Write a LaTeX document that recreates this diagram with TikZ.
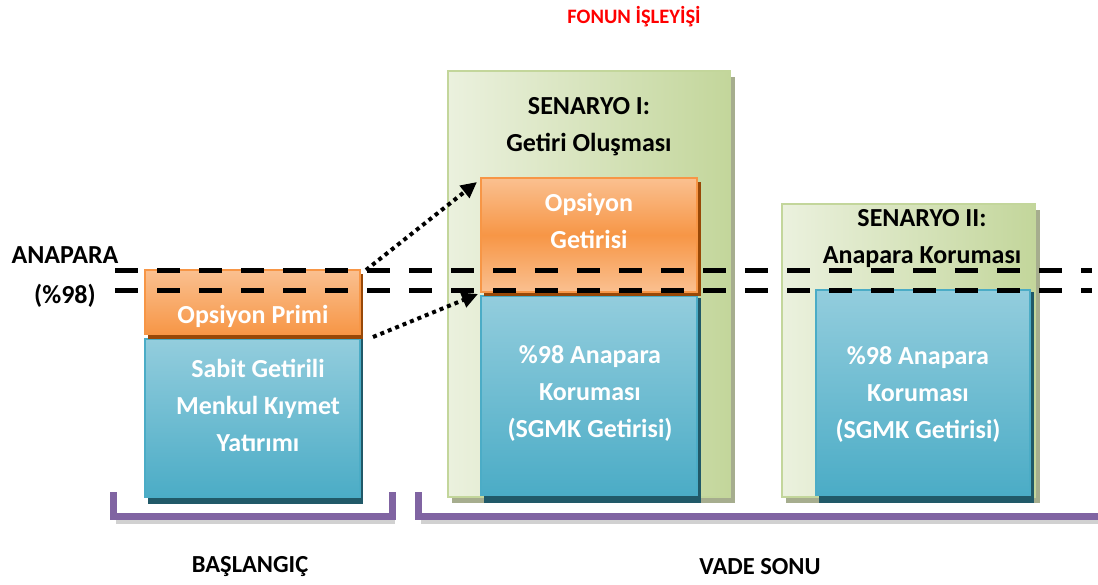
\documentclass[tikz,border=0pt]{standalone}
\usepackage{fontspec}
\setmainfont{Carlito}
\usetikzlibrary{arrows.meta}
\definecolor{orL}{HTML}{FAC090}
\definecolor{orD}{HTML}{F79646}
\definecolor{orB}{HTML}{984807}
\definecolor{blL}{HTML}{93CDDD}
\definecolor{blD}{HTML}{4BACC6}
\definecolor{blS}{HTML}{215968}
\definecolor{grL}{HTML}{EBF1DE}
\definecolor{grD}{HTML}{C3D69B}
\definecolor{grS}{HTML}{A6AD8E}
\definecolor{pur}{HTML}{8064A2}
\tikzset{
  txt/.style={font=\bfseries\fontsize{26}{37}\selectfont, align=center},
  wtxt/.style={txt, text=white},
  btxt/.style={txt, text=black},
  lbl/.style={font=\bfseries\fontsize{24.5}{30}\selectfont, text=black},
  dashline/.style={line width=5pt, dash pattern=on 23pt off 19pt},
  dotarrow/.style={line width=4pt, dash pattern=on 4pt off 4pt, -{Triangle[length=16pt,width=15pt]}},
  bracket/.style={line width=7pt, draw=pur},
  bshadow/.style={line width=7pt, draw=black!18},
}
\begin{document}
\begin{tikzpicture}[x=1pt,y=-1pt]
\useasboundingbox (0,0) rectangle (1098,585);
% title
\node[font=\bfseries\fontsize{20.5}{24}\selectfont, text=red] (title) at (634,17) {FONUN İŞLEYİŞİ};
% green boxes
\fill[grS] (452,77) rectangle (735,503);
\shade[left color=grL, right color=grD] (448,71) rectangle (730,497);
\draw[grD, line width=1.5pt] (448,71) rectangle (730,497);
\fill[grS] (786,210) rectangle (1040,503);
\shade[left color=grL, right color=grD] (782,204) rectangle (1035,497);
\draw[grD, line width=1.5pt] (782,204) rectangle (1035,497);
% left boxes
\fill[blS] (148,339) rectangle (363,504);
\shade[top color=blL, bottom color=blD] (145,339) rectangle (360,497);
\draw[blD, line width=1.5pt] (145,339) rectangle (360,497);
\fill[orB] (148,274) rectangle (363,339);
\shade[top color=orL, bottom color=orD] (145,270) rectangle (360,334);
\draw[orD, line width=1.5pt] (145,270) rectangle (360,334);
% senaryo I boxes
\fill[blS] (484,298) rectangle (701,503);
\shade[top color=blL, bottom color=blD] (481,296) rectangle (697,495);
\draw[blD, line width=1.5pt] (481,296) rectangle (697,495);
\fill[orB] (484,182) rectangle (701,296);
\shade[top color=orL, bottom color=orL, middle color=orD] (481,178) rectangle (697,292);
\draw[orD, line width=1.5pt] (481,178) rectangle (697,292);
% senaryo II box
\fill[blS] (819,292) rectangle (1034,503);
\shade[top color=blL, bottom color=blD] (816,290) rectangle (1030,495);
\draw[blD, line width=1.5pt] (816,290) rectangle (1030,495);
% texts
\node[wtxt] (prim) at (253,316) {Opsiyon Primi};
\node[wtxt] (sgmk) at (258,405) {Sabit Getirili\\Menkul Kıymet\\Yatırımı};
\node[btxt] (s1) at (589,127) {SENARYO I:\\Getiri Oluşması};
\node[wtxt] (og) at (589,221) {Opsiyon\\Getirisi};
\node[wtxt] (k1) at (590,393) {\%98 Anapara\\Koruması\\(SGMK Getirisi)};
\node[btxt] (s2) at (922,239) {SENARYO II:\\Anapara Koruması};
\node[wtxt] (k2) at (918,394) {\%98 Anapara\\Koruması\\(SGMK Getirisi)};
\node[btxt] (anapara) at (65,255) {ANAPARA};
\node[btxt] (yuzde) at (65,296) {(\%98)};
\node[lbl] (bas) at (250,567) {BAŞLANGIÇ};
\node[lbl] (vade) at (760,567) {VADE SONU};
% dashed lines
\coordinate (d1a) at (115,271); \coordinate (d1b) at (1092,271);
\coordinate (d2a) at (115,291); \coordinate (d2b) at (1092,291);
\draw[dashline] (d1a) -- (d1b);
\draw[dashline] (d2a) -- (d2b);
% arrows
\coordinate (a1s) at (366,270); \coordinate (a1e) at (477,182);
\coordinate (a2s) at (373,337); \coordinate (a2e) at (478,294);
\draw[dotarrow] (a1s) -- (a1e);
\draw[dotarrow] (a2s) -- (a2e);
% brackets
\coordinate (b1a) at (113,492); \coordinate (b1b) at (113,516); \coordinate (b1c) at (392,516); \coordinate (b1d) at (392,492);
\coordinate (b2a) at (418,492); \coordinate (b2b) at (418,516); \coordinate (b2c) at (1102,516);
\draw[bshadow] (116,520) -- (395,520);
\draw[bshadow] (421,520) -- (1102,520);
\draw[bracket] (b1a) -- (b1b) -- (b1c) -- (b1d);
\draw[bracket] (b2a) -- (b2b) -- (b2c);
\end{tikzpicture}
\end{document}
